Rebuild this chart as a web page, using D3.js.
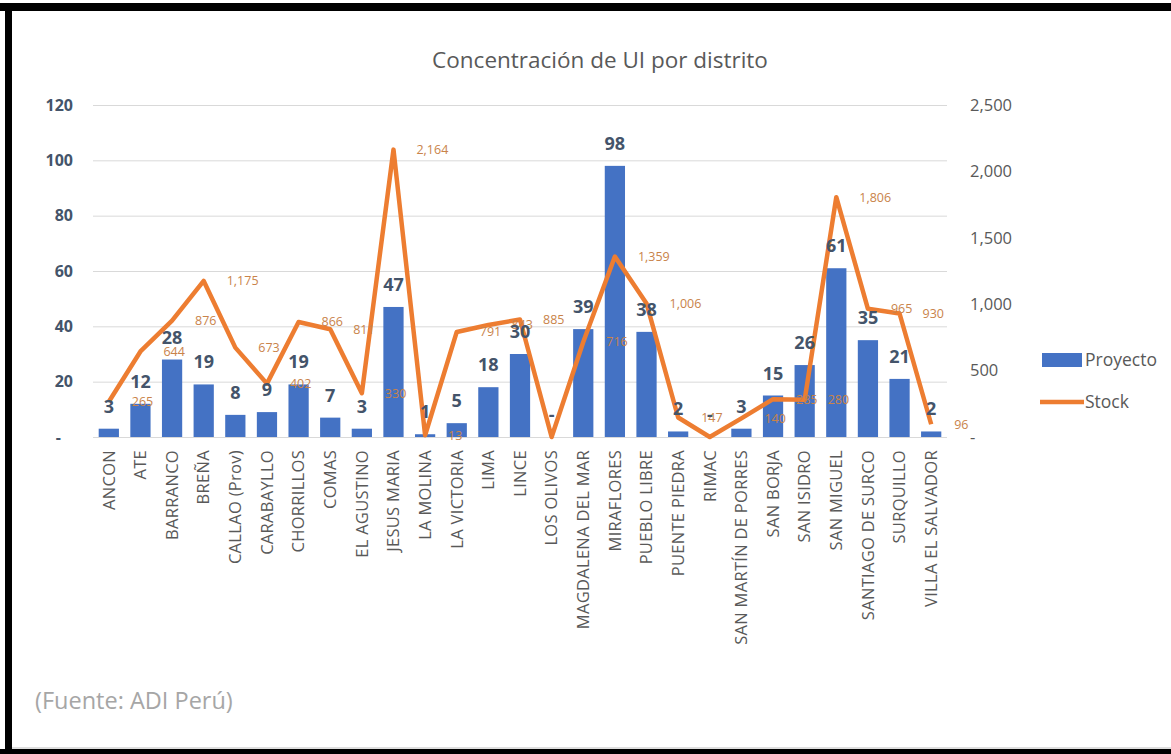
<!DOCTYPE html>
<html>
<head>
<meta charset="utf-8">
<script src="https://cdn.jsdelivr.net/npm/d3@7"></script>
<style>
  body { margin: 0; background: #fff; }
  text { font-family: "Open Sans", sans-serif; }
</style>
</head>
<body>
<div id="container"></div>
<script>
// Chart data
var districts = ["ANCON", "ATE", "BARRANCO", "BREÑA", "CALLAO (Prov)", "CARABAYLLO", "CHORRILLOS",
    "COMAS", "EL AGUSTINO", "JESUS MARIA", "LA MOLINA", "LA VICTORIA", "LIMA", "LINCE", "LOS OLIVOS",
    "MAGDALENA DEL MAR", "MIRAFLORES", "PUEBLO LIBRE", "PUENTE PIEDRA", "RIMAC", "SAN MARTÍN DE PORRES",
    "SAN BORJA", "SAN ISIDRO", "SAN MIGUEL", "SANTIAGO DE SURCO", "SURQUILLO", "VILLA EL SALVADOR"];
var proyecto = [3, 12, 28, 19, 8, 9, 19, 7, 3, 47, 1, 5, 18, 30, 0, 39, 98, 38, 2, 0, 3, 15, 26, 61, 35, 21, 2];
var stock = [265, 644, 876, 1175, 673, 402, 866, 811, 330, 2164, 13, 791, 843, 885, 0, 716, 1359, 1006,
    147, 0, 140, 285, 280, 1806, 965, 930, 96];
var leftTicks = [0, 20, 40, 60, 80, 100, 120];
var rightTicks = [0, 500, 1000, 1500, 2000, 2500];

// SVG dimensions
var width = 1171,
    height = 754;

var plot = { left: 93, right: 947, top: 105, bottom: 437 };

var svg = d3.select("#container")
    .append("svg")
    .attr("width", width)
    .attr("height", height);

// Black frame (top, left, bottom)
svg.append("rect").attr("x", 0).attr("y", 3).attr("width", width).attr("height", 8).attr("fill", "#000");
svg.append("rect").attr("x", 5).attr("y", 3).attr("width", 7).attr("height", height).attr("fill", "#000");
svg.append("rect").attr("x", 0).attr("y", 749).attr("width", width).attr("height", 5).attr("fill", "#000");
svg.append("line").attr("x1", 12).attr("x2", width).attr("y1", 748).attr("y2", 748)
    .attr("stroke", "#bdbdbd").attr("stroke-width", 1);

// Scales
var x = d3.scaleBand()
    .domain(districts)
    .range([plot.left, plot.right])
    .paddingInner(0.36)
    .paddingOuter(0.18);
var yLeft = d3.scaleLinear()
    .domain([0, 120])
    .range([plot.bottom, plot.top]);
var yRight = d3.scaleLinear()
    .domain([0, 2500])
    .range([plot.bottom, plot.top]);

// Title
svg.append("text")
    .attr("x", 600)
    .attr("y", 68)
    .attr("text-anchor", "middle")
    .attr("font-size", "22.5px")
    .attr("fill", "#595959")
    .text("Concentración de UI por distrito");

// Gridlines
svg.selectAll(".grid")
    .data(leftTicks)
    .enter()
    .append("line")
    .attr("class", "grid")
    .attr("x1", plot.left)
    .attr("x2", plot.right)
    .attr("y1", function(d) { return yLeft(d) + 0.5; })
    .attr("y2", function(d) { return yLeft(d) + 0.5; })
    .attr("stroke", "#d9d9d9")
    .attr("stroke-width", 1);

// Axes
var fmt = d3.format(",");
var leftAxis = svg.append("g")
    .attr("transform", "translate(" + (plot.left - 20) + ",0)")
    .call(d3.axisLeft(yLeft).tickValues(leftTicks).tickSize(0).tickPadding(0)
        .tickFormat(function(d) { return d === 0 ? "-" : d; }));
leftAxis.select(".domain").remove();
leftAxis.selectAll("text")
    .attr("font-family", "Open Sans, sans-serif")
    .attr("font-size", "16px")
    .attr("font-weight", "bold")
    .attr("fill", "#44546a");
leftAxis.selectAll(".tick").filter(function(d) { return d === 0; }).select("text")
    .attr("x", -12);

var rightAxis = svg.append("g")
    .attr("transform", "translate(" + (plot.right + 23) + ",0)")
    .call(d3.axisRight(yRight).tickValues(rightTicks).tickSize(0).tickPadding(0)
        .tickFormat(function(d) { return d === 0 ? "-" : fmt(d); }));
rightAxis.select(".domain").remove();
rightAxis.selectAll("text")
    .attr("font-family", "Open Sans, sans-serif")
    .attr("font-size", "16.5px")
    .attr("fill", "#595959");

// Bars
svg.selectAll(".bar")
    .data(proyecto)
    .enter()
    .append("rect")
    .attr("class", "bar")
    .attr("x", function(d, i) { return x(districts[i]); })
    .attr("y", function(d) { return yLeft(d); })
    .attr("width", x.bandwidth())
    .attr("height", function(d) { return plot.bottom - yLeft(d); })
    .attr("fill", "#4472c4");

// Stock line
var line = d3.line()
    .x(function(d, i) { return x(districts[i]) + x.bandwidth() / 2; })
    .y(function(d) { return yRight(d); });
svg.append("path")
    .datum(stock)
    .attr("d", line)
    .attr("fill", "none")
    .attr("stroke", "#ed7d31")
    .attr("stroke-width", 4.5)
    .attr("stroke-linejoin", "round");

// Stock labels, right of each point
svg.selectAll(".stocklabel")
    .data(stock)
    .enter()
    .append("text")
    .attr("class", "stocklabel")
    .attr("x", function(d, i) { return x(districts[i]) + x.bandwidth() / 2 + 23; })
    .attr("y", function(d) { return yRight(d); })
    .attr("dy", "0.35em")
    .attr("font-size", "12.5px")
    .attr("fill", "#c9834a")
    .text(function(d) { return d === 0 ? "" : fmt(d); });

// Bar labels
svg.selectAll(".barlabel")
    .data(proyecto)
    .enter()
    .append("text")
    .attr("class", "barlabel")
    .attr("x", function(d, i) { return x(districts[i]) + x.bandwidth() / 2; })
    .attr("y", function(d) { return yLeft(d) - 16; })
    .attr("text-anchor", "middle")
    .attr("font-size", "18px")
    .attr("font-weight", "bold")
    .attr("fill", "#44546a")
    .text(function(d) { return d === 0 ? "-" : d; });

// Category labels
svg.selectAll(".cat")
    .data(districts)
    .enter()
    .append("text")
    .attr("class", "cat")
    .attr("transform", function(d) {
        return "translate(" + (x(d) + x.bandwidth() / 2) + ",450) rotate(-90)";
    })
    .attr("dy", "0.35em")
    .attr("text-anchor", "end")
    .attr("font-size", "16.5px")
    .attr("letter-spacing", "0.3px")
    .attr("fill", "#595959")
    .text(function(d) { return d; });

// Legend
svg.append("rect")
    .attr("x", 1042).attr("y", 353).attr("width", 40).attr("height", 14)
    .attr("fill", "#4472c4");
svg.append("text")
    .attr("x", 1085).attr("y", 360).attr("dy", "0.35em")
    .attr("font-size", "17.5px").attr("fill", "#595959")
    .text("Proyecto");
svg.append("line")
    .attr("x1", 1040).attr("x2", 1084).attr("y1", 402).attr("y2", 402)
    .attr("stroke", "#ed7d31").attr("stroke-width", 4.5);
svg.append("text")
    .attr("x", 1085).attr("y", 402).attr("dy", "0.35em")
    .attr("font-size", "17.5px").attr("fill", "#595959")
    .text("Stock");

// Source note
svg.append("text")
    .attr("x", 35)
    .attr("y", 709)
    .attr("font-size", "23.5px")
    .attr("fill", "#a6a6a6")
    .text("(Fuente: ADI Perú)");
</script>
</body>
</html>
